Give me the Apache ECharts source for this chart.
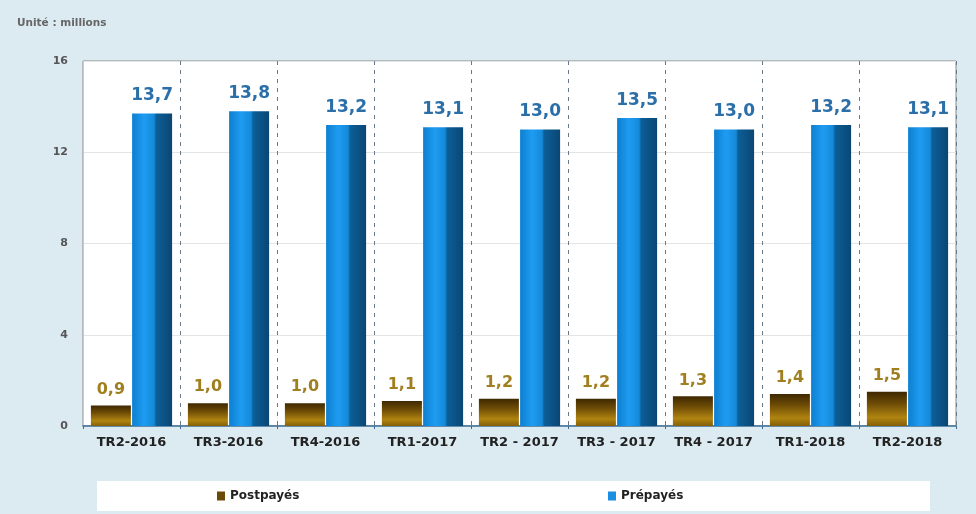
<!DOCTYPE html>
<html>
<head>
<meta charset="utf-8">
<script src="https://cdn.jsdelivr.net/npm/echarts@6/dist/echarts.min.js"></script>
<style>
html,body{margin:0;padding:0;background:#dcebf2;}
#c{width:976px;height:514px;}
</style>
</head>
<body>
<div id="c"></div>
<script>
const categories = ['TR2-2016','TR3-2016','TR4-2016','TR1-2017','TR2 - 2017','TR3 - 2017','TR4 - 2017','TR1-2018','TR2-2018'];
const postpayes = [0.9, 1.0, 1.0, 1.1, 1.2, 1.2, 1.3, 1.4, 1.5];
const prepayes = [13.7, 13.8, 13.2, 13.1, 13.0, 13.5, 13.0, 13.2, 13.1];
const yTicks = [0, 4, 8, 12, 16];

const fmt = p => p.value.toFixed(1).replace('.', ',');
const legendText = {fontFamily: 'DejaVu Sans', fontSize: 12, fontWeight: 'bold', color: '#222'};
const chart = echarts.init(document.getElementById('c'));
chart.setOption({
  backgroundColor: '#dcebf2',
  animation: false,
  title: {
    text: 'Unité : millions', left: 12, top: 13,
    textStyle: {fontFamily: 'DejaVu Sans', fontSize: 10.5, fontWeight: 'bold', color: '#666'}
  },
  graphic: [{
    type: 'rect', left: 97, top: 481, z: -1,
    shape: {width: 833, height: 30},
    style: {fill: '#ffffff'}
  }],
  grid: {left: 83, right: 20, top: 61, bottom: 88, show: true, backgroundColor: '#ffffff', borderColor: '#888', borderWidth: 1},
  legend: [
    {left: 217, top: 490, padding: 0, itemWidth: 8, itemHeight: 9, itemGap: 4, textStyle: legendText,
      data: [{name: 'Postpayés', icon: 'rect', itemStyle: {color: '#6b4a05'}}]},
    {left: 608, top: 490, padding: 0, itemWidth: 8, itemHeight: 9, itemGap: 4, textStyle: legendText,
      data: [{name: 'Prépayés', icon: 'rect', itemStyle: {color: '#1a8ee0'}}]}
  ],
  xAxis: {
    type: 'category', data: categories,
    axisLine: {lineStyle: {color: '#3a6d96', width: 1.5}},
    axisTick: {show: true, length: 3, lineStyle: {color: '#3a6d96'}},
    axisLabel: {fontFamily: 'DejaVu Sans', fontSize: 13, fontWeight: 'bold', color: '#222', margin: 10, interval: 0},
    splitLine: {show: true, lineStyle: {type: [4, 5], color: '#6a7a88', width: 1}}
  },
  yAxis: {
    type: 'value', min: 0, max: 16, interval: 4,
    axisLine: {show: true, lineStyle: {color: '#b8cfdc'}},
    axisTick: {show: false},
    axisLabel: {fontFamily: 'DejaVu Sans', fontSize: 11, fontWeight: 'bold', color: '#555', margin: 15,
      formatter: v => yTicks.includes(v) ? String(v) : ''},
    splitLine: {show: true, lineStyle: {color: '#e4e4e4'}}
  },
  series: [
    {
      name: 'Postpayés', type: 'bar', data: postpayes, barWidth: 40, barGap: '3%',
      itemStyle: {
        color: new echarts.graphic.LinearGradient(0, 0, 0, 1, [
          {offset: 0, color: '#3e2800'},
          {offset: 0.35, color: '#6e4c06'},
          {offset: 0.75, color: '#b08410'},
          {offset: 1, color: '#845f08'}
        ])
      },
      label: {show: true, position: 'top', distance: 8, formatter: fmt,
        fontFamily: 'DejaVu Sans', fontSize: 16, fontWeight: 'bold', color: '#a07f1f'}
    },
    {
      name: 'Prépayés', type: 'bar', data: prepayes, barWidth: 40,
      itemStyle: {
        color: new echarts.graphic.LinearGradient(0, 0, 1, 0, [
          {offset: 0, color: '#0d7fd0'},
          {offset: 0.3, color: '#1e9cf2'},
          {offset: 0.55, color: '#1589d8'},
          {offset: 0.6, color: '#0c5f98'},
          {offset: 1, color: '#0a4674'}
        ])
      },
      label: {show: true, position: 'top', distance: 9, formatter: fmt,
        fontFamily: 'DejaVu Sans', fontSize: 17, fontWeight: 'bold', color: '#2b6fa8'}
    }
  ]
});
</script>
</body>
</html>
